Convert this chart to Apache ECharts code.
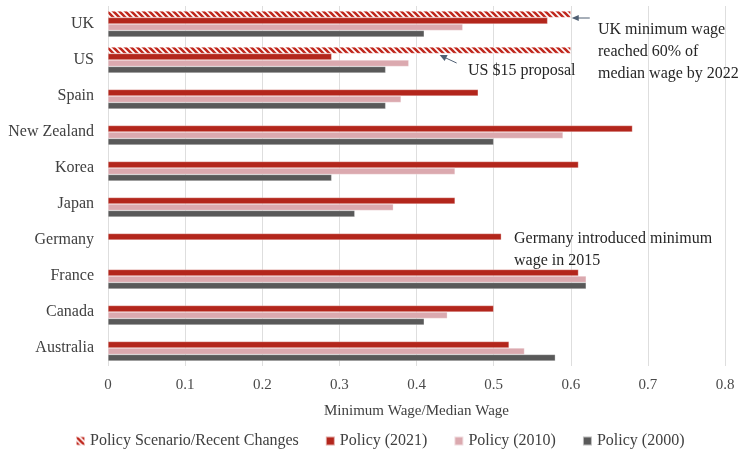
<!DOCTYPE html>
<html><head><meta charset="utf-8">
<script src="https://cdn.jsdelivr.net/npm/echarts@6/dist/echarts.min.js"></script>
<style>html,body{margin:0;padding:0;background:#fff}#c{width:739px;height:453px}</style>
</head><body><div id="c"></div>
<script>
const categories = ['Australia','Canada','France','Germany','Japan','Korea','New Zealand','Spain','US','UK'];
const scenario = [null,null,null,null,null,null,null,null,0.60,0.60];
const p2021 = [0.52,0.50,0.61,0.51,0.45,0.61,0.68,0.48,0.29,0.57];
const p2010 = [0.54,0.44,0.62,null,0.37,0.45,0.59,0.38,0.39,0.46];
const p2000 = [0.58,0.41,0.62,null,0.32,0.29,0.50,0.36,0.36,0.41];
const seriesNames = ['Policy Scenario/Recent Changes','Policy (2021)','Policy (2010)','Policy (2000)'];
const xTicks = {min:0, max:0.8, interval:0.1};

const FONT = 'Liberation Serif';
const RED = '#B3261C', PINK = '#DBA9AF', GRAY = '#595959';

function hatch(){
  const c = document.createElement('canvas');
  c.width = 6; c.height = 6;
  const g = c.getContext('2d');
  g.fillStyle = '#fff'; g.fillRect(0,0,6,6);
  g.strokeStyle = '#C0281E'; g.lineWidth = 2.6;
  g.beginPath();
  g.moveTo(-3,-3); g.lineTo(9,9);
  g.moveTo(-3,3); g.lineTo(3,9);
  g.moveTo(3,-3); g.lineTo(9,3);
  g.stroke();
  return c;
}
const hatchColor = {image: hatch(), repeat: 'repeat'};

const chart = echarts.init(document.getElementById('c'), null, {renderer:'canvas'});
const mk = (name, data, color) => ({
  name, type:'bar', data, barGap:'0%', barCategoryGap:'28%',
  itemStyle:{color, borderColor: 'rgba(255,255,255,0.6)', borderWidth:0.5},
  silent:true, animation:false
});
chart.setOption({
  animation:false,
  textStyle:{fontFamily:FONT},
  grid:{left:108, right:14, top:6, bottom:87, containLabel:false},
  xAxis:{type:'value', min:xTicks.min, max:xTicks.max, interval:xTicks.interval,
    name:'Minimum Wage/Median Wage', nameLocation:'middle', nameGap:38,
    nameTextStyle:{fontFamily:FONT, fontSize:15, color:'#404040'},
    axisLine:{show:false}, axisTick:{show:false},
    axisLabel:{fontFamily:FONT, fontSize:15, color:'#4a4a4a', margin:12,
      formatter:v=> (Math.round(v*10)/10).toString()},
    splitLine:{show:true, lineStyle:{color:'#DEDEDE', width:1}}},
  yAxis:{type:'category', data:categories,
    axisLine:{show:false}, axisTick:{show:false},
    axisLabel:{fontFamily:FONT, fontSize:16, color:'#404040', margin:14}},
  legend:{data:seriesNames, bottom:4, left:75, padding:0, itemWidth:9, itemHeight:9, itemGap:26,
    icon:'rect', textStyle:{fontFamily:FONT, fontSize:16, color:'#404040'}},
  series:[
    mk(seriesNames[0], scenario, hatchColor),
    mk(seriesNames[1], p2021, RED),
    mk(seriesNames[2], p2010, PINK),
    mk(seriesNames[3], p2000, GRAY)
  ]
});

// annotations anchored to data coordinates
const ukEnd = chart.convertToPixel({gridIndex:0}, [0.60, 'UK']);
const usEnd = chart.convertToPixel({gridIndex:0}, [0.43, 'US']);
const ARROW = '#4F5F73';
const annFont = '16px "' + FONT + '"';
chart.setOption({graphic:[
  {type:'line', shape:{x1:ukEnd[0]+19, y1:ukEnd[1]-6, x2:ukEnd[0]+3, y2:ukEnd[1]-6}, style:{stroke:ARROW, lineWidth:1}},
  {type:'polygon', shape:{points:[[ukEnd[0]+1,ukEnd[1]-6],[ukEnd[0]+8,ukEnd[1]-9],[ukEnd[0]+8,ukEnd[1]-3]]}, style:{fill:ARROW}},
  {type:'text', left:598, top:19, style:{text:'UK minimum wage\nreached 60% of\nmedian wage by 2022', font:annFont, fill:'#262626', lineHeight:22}},
  {type:'line', shape:{x1:usEnd[0]+17, y1:usEnd[1]+3, x2:usEnd[0]+2, y2:usEnd[1]-4}, style:{stroke:ARROW, lineWidth:1}},
  {type:'polygon', shape:{points:[[usEnd[0],usEnd[1]-5],[usEnd[0]+8,usEnd[1]-5],[usEnd[0]+5,usEnd[1]+1]]}, style:{fill:ARROW}},
  {type:'text', left:468, top:63, style:{text:'US $15 proposal', font:annFont, fill:'#262626'}},
  {type:'text', left:514, top:228, style:{text:'Germany introduced minimum\nwage in 2015', font:annFont, fill:'#262626', lineHeight:22}}
]});
</script></body></html>
